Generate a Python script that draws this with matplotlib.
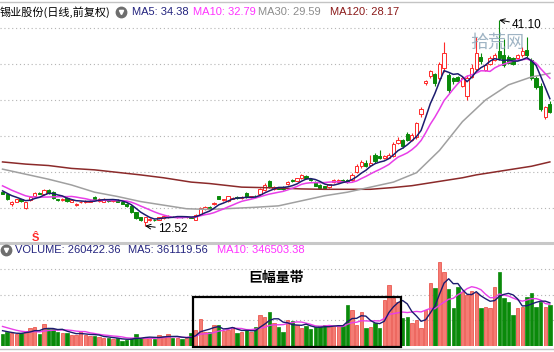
import matplotlib.pyplot as plt
import numpy as np
from matplotlib.lines import Line2D
from matplotlib.patches import Rectangle

plt.rcParams['font.family'] = ['Liberation Sans', 'Noto Sans CJK SC', 'DejaVu Sans']

# daily bars (yuan), oldest first
opens = [17.2, 16.9, 15.5, 15.9, 16.2, 15.0, 16.1, 16.6, 17.1, 16.9,
         17.5, 17.2, 16.2, 16.1, 16.4, 15.9, 15.4, 15.8, 15.8, 15.9,
         16.5, 16.0, 15.9, 16.1, 16.0, 16.1, 15.9, 15.6, 15.3, 14.4,
         13.7, 13.1, 13.3, 13.4, 13.4, 13.6, 13.7, 13.8, 13.7, 13.8,
         13.7, 13.7, 13.4, 14.2, 14.8, 15.2, 15.5, 16.6, 16.1, 16.0,
         16.3, 16.5, 16.4, 17.1, 16.5, 16.7, 16.9, 17.5, 18.8, 17.6,
         17.8, 17.9, 18.3, 18.9, 18.8, 19.1, 19.5, 19.0, 18.6, 18.2,
         18.0, 17.9, 18.6, 18.6, 18.9, 18.9, 18.9, 20.0, 20.8, 21.2,
         21.0, 22.3, 22.2, 21.9, 22.0, 22.2, 24.0, 24.4, 25.3, 24.5,
         24.8, 28.0, 32.3, 33.3, 33.6, 33.0, 34.5, 33.5, 33.0, 33.2,
         32.0, 30.5, 33.2, 34.3, 36.0, 34.2, 35.0, 35.6, 36.8, 36.2,
         36.0, 35.8, 35.8, 36.2, 36.9, 35.6, 33.0, 32.0, 27.6, 29.5]
closes = [17.0, 16.2, 15.9, 16.2, 16.0, 15.8, 16.5, 17.1, 17.0, 17.5,
          17.1, 16.4, 16.1, 16.3, 16.0, 16.1, 15.6, 15.9, 16.0, 16.0,
          16.2, 16.3, 16.3, 16.0, 16.1, 15.9, 15.6, 15.3, 14.4, 13.6,
          13.3, 13.7, 13.5, 13.3, 13.7, 13.9, 13.9, 13.75, 13.8, 13.7,
          13.8, 13.65, 14.0, 15.0, 15.2, 15.0, 15.7, 16.3, 16.2, 16.6,
          16.4, 16.4, 16.5, 16.5, 16.6, 16.6, 17.6, 18.2, 17.9, 17.9,
          17.7, 17.6, 18.6, 18.7, 19.1, 19.6, 19.1, 18.9, 18.1, 17.8,
          17.8, 18.3, 18.9, 18.9, 18.8, 18.6, 19.6, 20.8, 21.4, 20.8,
          21.3, 21.5, 21.9, 22.2, 22.4, 23.9, 24.5, 23.6, 24.5, 25.2,
          26.8, 28.8, 32.6, 34.0, 32.3, 35.0, 36.5, 31.4, 32.6, 32.7,
          33.0, 33.0, 34.5, 36.5, 35.4, 34.8, 35.8, 36.2, 35.8, 34.8,
          35.2, 35.0, 36.2, 36.8, 36.2, 33.0, 31.8, 28.7, 29.0, 28.4]
highs = [17.3, 17.0, 16.0, 16.3, 16.3, 15.9, 16.6, 17.2, 17.2, 17.7,
         17.6, 17.3, 16.3, 16.4, 16.5, 16.2, 15.7, 16.0, 16.1, 16.1,
         16.6, 16.4, 16.4, 16.2, 16.2, 16.2, 16.0, 15.7, 15.4, 14.5,
         13.8, 13.8, 13.6, 13.5, 13.8, 14.0, 14.0, 13.9, 13.9, 13.9,
         13.9, 13.8, 14.1, 15.1, 15.3, 15.3, 15.8, 16.7, 16.3, 16.7,
         16.5, 16.6, 16.6, 17.2, 16.7, 16.8, 17.8, 18.5, 18.9, 18.0,
         17.9, 18.0, 18.7, 19.0, 19.2, 19.7, 19.6, 19.1, 18.7, 18.3,
         18.1, 18.4, 19.0, 19.0, 19.0, 19.0, 19.8, 21.1, 21.6, 21.6,
         22.4, 22.6, 23.0, 22.4, 22.6, 24.1, 24.8, 24.6, 25.5, 25.4,
         27.0, 29.0, 32.8, 34.2, 33.8, 35.3, 38.0, 33.8, 33.2, 33.4,
         33.3, 33.5, 35.0, 38.8, 36.5, 35.0, 36.1, 36.5, 41.10, 38.5,
         36.3, 36.0, 36.4, 37.3, 38.8, 35.8, 33.3, 32.3, 29.2, 29.8]
lows = [16.9, 16.1, 15.3, 15.8, 15.9, 14.9, 16.0, 16.5, 16.9, 16.8,
        17.0, 16.3, 16.0, 16.0, 15.9, 15.8, 15.3, 15.7, 15.7, 15.8,
        16.1, 15.9, 15.8, 15.9, 15.9, 15.8, 15.5, 15.2, 14.3, 13.5,
        13.2, 12.52, 13.2, 13.2, 13.3, 13.5, 13.6, 13.7, 13.6, 13.6,
        13.6, 13.55, 13.3, 14.1, 14.7, 14.9, 15.4, 16.2, 16.0, 15.9,
        16.2, 16.3, 16.3, 16.4, 16.4, 16.5, 16.8, 17.4, 17.8, 17.5,
        17.6, 17.5, 18.2, 18.6, 18.7, 19.0, 19.0, 18.8, 18.0, 17.7,
        17.6, 17.8, 18.5, 18.5, 18.7, 18.5, 18.8, 19.9, 20.6, 20.7,
        20.9, 21.3, 21.8, 21.8, 21.9, 22.1, 23.9, 23.4, 24.3, 24.3,
        24.6, 27.6, 32.1, 33.1, 31.9, 32.8, 33.9, 31.0, 32.2, 32.5,
        31.8, 30.0, 33.0, 34.0, 35.0, 34.0, 34.8, 35.4, 35.5, 34.6,
        35.0, 34.8, 35.6, 36.0, 36.0, 32.8, 31.5, 28.5, 27.4, 28.2]
# volume, 10k shares
volumes = [7.0, 8.3, 7.5, 6.8, 7.5, 9.0, 10.5, 11.3, 6.8, 12.9,
           10.2, 10.2, 8.3, 7.5, 7.5, 6.5, 6.5, 8.7, 6.3, 6.0,
           6.0, 5.3, 4.5, 4.8, 4.2, 4.5, 3.0, 3.3, 4.8, 7.0,
           4.5, 5.3, 4.5, 4.2, 6.5, 6.0, 6.8, 4.5, 4.5, 4.2,
           4.5, 7.5, 9.5, 15.9, 8.3, 8.3, 12.3, 12.3, 9.0, 9.5,
           11.3, 7.5, 8.3, 9.5, 8.3, 11.3, 18.0, 17.1, 20.0, 13.5,
           11.3, 8.3, 15.0, 14.7, 12.3, 10.5, 11.7, 9.9, 11.1, 11.7,
           12.3, 11.7, 11.7, 12.3, 11.7, 24.0, 21.0, 12.3, 20.0, 10.5,
           11.3, 13.5, 10.5, 27.0, 36.0, 28.2, 26.0, 16.5, 17.1, 13.5,
           15.0, 10.5, 21.0, 37.0, 34.0, 49.5, 43.5, 33.6, 22.5, 34.5,
           31.5, 30.0, 32.5, 31.0, 22.5, 23.0, 22.5, 34.5, 43.5, 28.2,
           26.0, 18.0, 22.5, 23.0, 28.8, 31.0, 23.0, 26.0, 23.0, 24.0]

# the nine sessions before the first visible bar (feed MA5 / MA10)
close_before = [19.2, 19.0, 18.8, 18.6, 18.3, 17.9, 17.5, 17.3, 17.2]
volume_before = [16, 15, 14, 13, 12, 11, 10, 9, 8]

# long averages at a few bars
ma30_at = [0, 5, 10, 15, 20, 25, 30, 35, 40, 45, 50, 55, 60, 65, 70, 75,
           80, 85, 90, 95, 100, 105, 110, 115, 119]
ma30_vals = [20.4, 19.7, 19.0, 18.2, 17.2, 16.6, 15.9, 15.4, 14.9, 14.8,
             14.95, 15.1, 15.3, 16.0, 16.7, 17.2, 17.9, 18.6, 19.9, 23.0,
             27.0, 30.0, 32.1, 33.2, 33.7]
ma120_at = [0, 5, 10, 15, 20, 25, 30, 35, 41, 45, 52, 59, 65, 70, 75, 80,
            85, 89, 95, 100, 103, 110, 115, 119]
ma120_vals = [21.4, 21.1, 20.9, 20.5, 20.3, 19.95, 19.6, 19.2, 18.6, 18.4,
              17.9, 17.8, 17.65, 17.6, 17.6, 17.6, 17.85, 18.1, 18.7, 19.2,
              19.6, 20.3, 20.8, 21.4]


def moving_avg(values, prior, w):
    s = np.concatenate([prior, values])
    return np.convolve(s, np.ones(w) / w, mode='valid')[-len(values):]


o = np.array(opens)
c = np.array(closes)
h = np.array(highs)
l = np.array(lows)
v = np.array(volumes)
x = np.arange(len(c))
up = c >= o

RED = '#ff2a2a'
GREEN = '#0a8a0a'
GRID = dict(color='#b4b4b4', lw=0.8, ls=(0, (1, 2.5)))

H = 352.0
fig = plt.figure(figsize=(5.54, 3.52), dpi=100)


def fy(px):
    return 1 - px / H


ax = fig.add_axes([0, fy(241), 1, (241 - 4) / H])
axv = fig.add_axes([0, fy(346), 1, (346 - 256) / H])
for a in (ax, axv):
    a.set_xlim(-0.55, 119.9)
    a.set_xticks([])
    a.set_yticks([])
    for s in a.spines.values():
        s.set_visible(False)
    a.patch.set_alpha(0)

# ---- price panel ----
ax.set_ylim(10.42, 43.33)
for p in [15, 20, 25, 30, 35, 40]:
    ax.axhline(p, zorder=0, **GRID)

candle_edge = np.where(up, RED, GREEN)
candle_face = np.where(up, 'white', GREEN)
ax.vlines(x, l, h, colors=candle_edge, lw=0.8, zorder=2)
ax.bar(x, np.maximum(np.abs(c - o), 0.07), bottom=np.minimum(o, c), width=0.7,
       color=candle_face, edgecolor=candle_edge, linewidth=0.7, zorder=3)

ax.plot(ma120_at, ma120_vals, color='#8b2a2a', lw=1.1, zorder=4)
ax.plot(ma30_at, ma30_vals, color='#a0a0a0', lw=1.1, zorder=4)
ax.plot(x, moving_avg(c, close_before, 10), color='#e83ee8', lw=1.1, zorder=4)
ax.plot(x, moving_avg(c, close_before, 5), color='#1c1c6e', lw=1.1, zorder=4)

lo_i = int(np.argmin(l))
hi_i = int(np.argmax(h))
ax.annotate(f'{l[lo_i]:.2f}', xy=(lo_i, l[lo_i]), xytext=(lo_i + 2.8, l[lo_i] - 0.5),
            fontsize=8.5, va='center', ha='left', color='black',
            arrowprops=dict(arrowstyle='->', lw=0.7, color='black',
                            shrinkA=0, shrinkB=0))
ax.annotate(f'{h[hi_i]:.2f}', xy=(hi_i, h[hi_i]), xytext=(hi_i + 2.8, h[hi_i] - 0.7),
            fontsize=8.5, va='center', ha='left', color='black',
            arrowprops=dict(arrowstyle='->', lw=0.7, color='black',
                            shrinkA=0, shrinkB=0))

ax.text(107.5, 37.9, '拾荒网', fontsize=13, color='#7f9bb0', alpha=0.75,
        ha='center', va='center', family='Noto Sans CJK SC', zorder=6)

# ---- volume panel ----
axv.set_ylim(0, 52.9)
for g in [15, 30, 45]:
    axv.axhline(g, zorder=0, **GRID)
axv.bar(x, v, width=0.75, color=np.where(up, '#f47c74', GREEN),
        edgecolor=np.where(up, '#e8453c', GREEN), linewidth=0.5, zorder=2)
axv.plot(x, moving_avg(v, volume_before, 10), color='#e83ee8', lw=1.0, zorder=3)
axv.plot(x, moving_avg(v, volume_before, 5), color='#1c1c6e', lw=1.0, zorder=3)

axv.add_patch(Rectangle((41.4, -0.6), 86.6 - 41.4, 29.4, fill=False,
                        ec='black', lw=1.6, clip_on=False, zorder=5))
axv.text(59.5, 40, '巨幅量带', fontsize=10, fontweight='bold', ha='center',
         va='center', family='Noto Sans CJK SC', zorder=5)

# ---- frame lines ----
for py, lw, col in [(1.5, 1.0, '#c4c4c4'), (243, 2.2, '#c8c8c8'), (348.5, 1.0, '#c4c4c4')]:
    fig.add_artist(Line2D([0, 1], [fy(py), fy(py)], color=col, lw=lw,
                          transform=fig.transFigure))

# ---- headers ----
def header(px, py, txt, col):
    fig.text(px / 554, fy(py), txt, color=col, fontsize=8, ha='left', va='center')


def icon(px, py):
    fig.add_artist(Line2D([px / 554], [fy(py)], marker='o', markersize=7.5,
                          color='#6e6e6e', transform=fig.transFigure))
    fig.add_artist(Line2D([px / 554], [fy(py - 0.5)], marker='v', markersize=3,
                          color='white', transform=fig.transFigure))


fig.text(0, fy(12), '锡业股份(日线,前复权)', fontsize=8, ha='left', va='center',
         family=['Noto Sans CJK SC', 'DejaVu Sans'])
icon(121, 12)
header(132, 12, 'MA5: 34.38', '#23237e')
header(193, 12, 'MA10: 32.79', '#ff33ff')
header(258, 12, 'MA30: 29.59', '#8c8c8c')
header(330, 12, 'MA120: 28.17', '#8b1a1a')

icon(6, 250)
header(15, 250, 'VOLUME: 260422.36', '#23237e')
header(128, 250, 'MA5: 361119.56', '#23237e')
header(217, 250, 'MA10: 346503.38', '#ff33ff')

fig.text(35 / 554, fy(238), 'Ŝ', color=RED, fontsize=8, fontweight='bold',
         ha='center', va='center')

fig.savefig('out.png', dpi=100)
